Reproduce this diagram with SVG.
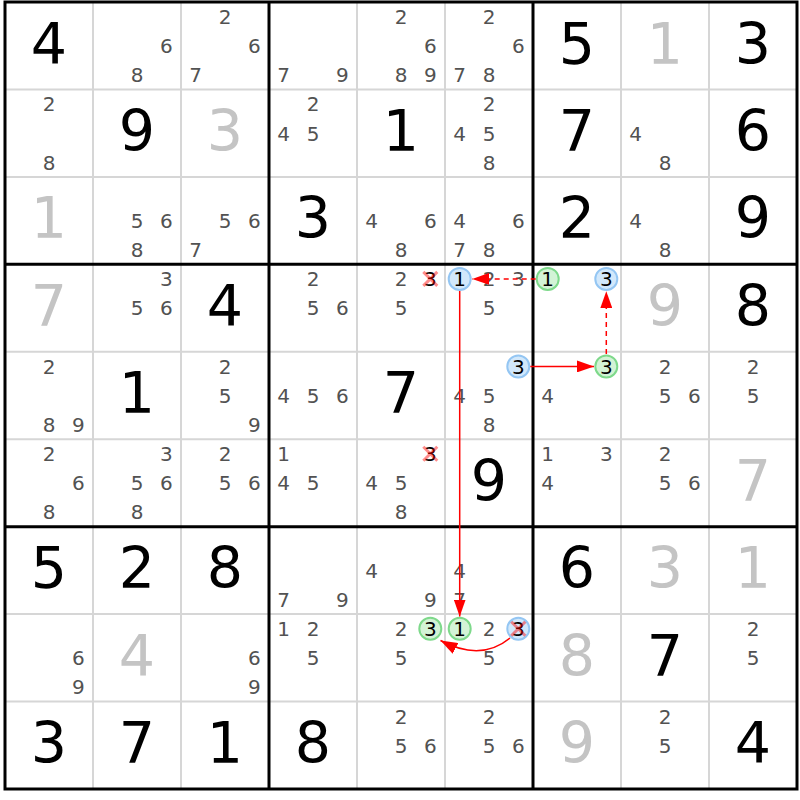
<svg xmlns="http://www.w3.org/2000/svg" width="800" height="800" viewBox="0 0 800 800">
<style>
.c{font-family:"DejaVu Sans",Verdana,sans-serif;font-size:20px;fill:#525252;text-anchor:middle}
.hl{fill:#000}
.b{font-family:"DejaVu Sans",Verdana,sans-serif;font-size:57px;fill:#000;text-anchor:middle}
.gv{fill:#c4c4c4}
.cb{fill:#d2e8fb;stroke:#94c6f3;stroke-width:2}
.cg{fill:#d3f3d6;stroke:#7ed98b;stroke-width:2}
.x{stroke:#ff0000;stroke-opacity:0.45;stroke-width:3;fill:none}
.thin{stroke:#d6d6d6;stroke-width:2}
.thick{stroke:#000;stroke-width:3;fill:none}
.lk{stroke:#ff0000;stroke-width:1.5;fill:none;marker-end:url(#ah)}
.ds{stroke-dasharray:5 4}
</style>
<defs>
<marker id="ah" markerUnits="userSpaceOnUse" markerWidth="17" markerHeight="12" viewBox="0 0 17 12" refX="17" refY="6" orient="auto">
<path d="M0,0 L17,6 L0,12 z" fill="#ff0000"/>
</marker>
</defs>
<rect x="0" y="0" width="800" height="800" fill="#fff"/>
<g id="grid">
<path class="thin" d="M93,2V789M181,2V789M357,2V789M445,2V789M621,2V789M709,2V789M5,89.4H797M5,176.9H797M5,351.8H797M5,439.2H797M5,614.1H797M5,701.6H797"/>
<path class="thick" d="M269,2V789M533,2V789M5,264.3H797M5,526.7H797"/>
<rect class="thick" x="5" y="2" width="792" height="787"/>
</g>
<g id="cells">
<!-- row 0 -->
<g id="r0c0" transform="translate(5,2)"><text class="b" x="44" y="61.5">4</text></g>
<g id="r0c1" transform="translate(93,2)"><text class="c" x="73.3" y="51.2">6</text><text class="c" x="44" y="80.2">8</text></g>
<g id="r0c2" transform="translate(181,2)"><text class="c" x="44" y="22">2</text><text class="c" x="73.3" y="51.2">6</text><text class="c" x="14.7" y="80.2">7</text></g>
<g id="r0c3" transform="translate(269,2)"><text class="c" x="14.7" y="80.2">7</text><text class="c" x="73.3" y="80.2">9</text></g>
<g id="r0c4" transform="translate(357,2)"><text class="c" x="44" y="22">2</text><text class="c" x="73.3" y="51.2">6</text><text class="c" x="44" y="80.2">8</text><text class="c" x="73.3" y="80.2">9</text></g>
<g id="r0c5" transform="translate(445,2)"><text class="c" x="44" y="22">2</text><text class="c" x="73.3" y="51.2">6</text><text class="c" x="14.7" y="80.2">7</text><text class="c" x="44" y="80.2">8</text></g>
<g id="r0c6" transform="translate(533,2)"><text class="b" x="44" y="61.5">5</text></g>
<g id="r0c7" transform="translate(621,2)"><text class="b gv" x="44" y="61.5">1</text></g>
<g id="r0c8" transform="translate(709,2)"><text class="b" x="44" y="61.5">3</text></g>
<!-- row 1 -->
<g id="r1c0" transform="translate(5,89.4)"><text class="c" x="44" y="22">2</text><text class="c" x="44" y="80.2">8</text></g>
<g id="r1c1" transform="translate(93,89.4)"><text class="b" x="44" y="61.5">9</text></g>
<g id="r1c2" transform="translate(181,89.4)"><text class="b gv" x="44" y="61.5">3</text></g>
<g id="r1c3" transform="translate(269,89.4)"><text class="c" x="44" y="22">2</text><text class="c" x="14.7" y="51.2">4</text><text class="c" x="44" y="51.2">5</text></g>
<g id="r1c4" transform="translate(357,89.4)"><text class="b" x="44" y="61.5">1</text></g>
<g id="r1c5" transform="translate(445,89.4)"><text class="c" x="44" y="22">2</text><text class="c" x="14.7" y="51.2">4</text><text class="c" x="44" y="51.2">5</text><text class="c" x="44" y="80.2">8</text></g>
<g id="r1c6" transform="translate(533,89.4)"><text class="b" x="44" y="61.5">7</text></g>
<g id="r1c7" transform="translate(621,89.4)"><text class="c" x="14.7" y="51.2">4</text><text class="c" x="44" y="80.2">8</text></g>
<g id="r1c8" transform="translate(709,89.4)"><text class="b" x="44" y="61.5">6</text></g>
<!-- row 2 -->
<g id="r2c0" transform="translate(5,176.9)"><text class="b gv" x="44" y="61.5">1</text></g>
<g id="r2c1" transform="translate(93,176.9)"><text class="c" x="44" y="51.2">5</text><text class="c" x="73.3" y="51.2">6</text><text class="c" x="44" y="80.2">8</text></g>
<g id="r2c2" transform="translate(181,176.9)"><text class="c" x="44" y="51.2">5</text><text class="c" x="73.3" y="51.2">6</text><text class="c" x="14.7" y="80.2">7</text></g>
<g id="r2c3" transform="translate(269,176.9)"><text class="b" x="44" y="61.5">3</text></g>
<g id="r2c4" transform="translate(357,176.9)"><text class="c" x="14.7" y="51.2">4</text><text class="c" x="73.3" y="51.2">6</text><text class="c" x="44" y="80.2">8</text></g>
<g id="r2c5" transform="translate(445,176.9)"><text class="c" x="14.7" y="51.2">4</text><text class="c" x="73.3" y="51.2">6</text><text class="c" x="14.7" y="80.2">7</text><text class="c" x="44" y="80.2">8</text></g>
<g id="r2c6" transform="translate(533,176.9)"><text class="b" x="44" y="61.5">2</text></g>
<g id="r2c7" transform="translate(621,176.9)"><text class="c" x="14.7" y="51.2">4</text><text class="c" x="44" y="80.2">8</text></g>
<g id="r2c8" transform="translate(709,176.9)"><text class="b" x="44" y="61.5">9</text></g>
<!-- row 3 -->
<g id="r3c0" transform="translate(5,264.3)"><text class="b gv" x="44" y="61.5">7</text></g>
<g id="r3c1" transform="translate(93,264.3)"><text class="c" x="73.3" y="22">3</text><text class="c" x="44" y="51.2">5</text><text class="c" x="73.3" y="51.2">6</text></g>
<g id="r3c2" transform="translate(181,264.3)"><text class="b" x="44" y="61.5">4</text></g>
<g id="r3c3" transform="translate(269,264.3)"><text class="c" x="44" y="22">2</text><text class="c" x="44" y="51.2">5</text><text class="c" x="73.3" y="51.2">6</text></g>
<g id="r3c4" transform="translate(357,264.3)"><text class="c" x="44" y="22">2</text><text class="c hl" x="73.3" y="22">3</text><path class="x" d="M66.3,7.6L80.3,21.6M80.3,7.6L66.3,21.6"/><text class="c" x="44" y="51.2">5</text></g>
<g id="r3c5" transform="translate(445,264.3)"><circle class="cb" cx="14.7" cy="14.6" r="11"/><text class="c hl" x="14.7" y="22">1</text><text class="c" x="44" y="22">2</text><text class="c" x="73.3" y="22">3</text><text class="c" x="44" y="51.2">5</text></g>
<g id="r3c6" transform="translate(533,264.3)"><circle class="cg" cx="14.7" cy="14.6" r="11"/><text class="c hl" x="14.7" y="22">1</text><circle class="cb" cx="73.3" cy="14.6" r="11"/><text class="c hl" x="73.3" y="22">3</text></g>
<g id="r3c7" transform="translate(621,264.3)"><text class="b gv" x="44" y="61.5">9</text></g>
<g id="r3c8" transform="translate(709,264.3)"><text class="b" x="44" y="61.5">8</text></g>
<!-- row 4 -->
<g id="r4c0" transform="translate(5,351.8)"><text class="c" x="44" y="22">2</text><text class="c" x="44" y="80.2">8</text><text class="c" x="73.3" y="80.2">9</text></g>
<g id="r4c1" transform="translate(93,351.8)"><text class="b" x="44" y="61.5">1</text></g>
<g id="r4c2" transform="translate(181,351.8)"><text class="c" x="44" y="22">2</text><text class="c" x="44" y="51.2">5</text><text class="c" x="73.3" y="80.2">9</text></g>
<g id="r4c3" transform="translate(269,351.8)"><text class="c" x="14.7" y="51.2">4</text><text class="c" x="44" y="51.2">5</text><text class="c" x="73.3" y="51.2">6</text></g>
<g id="r4c4" transform="translate(357,351.8)"><text class="b" x="44" y="61.5">7</text></g>
<g id="r4c5" transform="translate(445,351.8)"><circle class="cb" cx="73.3" cy="14.6" r="11"/><text class="c hl" x="73.3" y="22">3</text><text class="c" x="14.7" y="51.2">4</text><text class="c" x="44" y="51.2">5</text><text class="c" x="44" y="80.2">8</text></g>
<g id="r4c6" transform="translate(533,351.8)"><circle class="cg" cx="73.3" cy="14.6" r="11"/><text class="c hl" x="73.3" y="22">3</text><text class="c" x="14.7" y="51.2">4</text></g>
<g id="r4c7" transform="translate(621,351.8)"><text class="c" x="44" y="22">2</text><text class="c" x="44" y="51.2">5</text><text class="c" x="73.3" y="51.2">6</text></g>
<g id="r4c8" transform="translate(709,351.8)"><text class="c" x="44" y="22">2</text><text class="c" x="44" y="51.2">5</text></g>
<!-- row 5 -->
<g id="r5c0" transform="translate(5,439.2)"><text class="c" x="44" y="22">2</text><text class="c" x="73.3" y="51.2">6</text><text class="c" x="44" y="80.2">8</text></g>
<g id="r5c1" transform="translate(93,439.2)"><text class="c" x="73.3" y="22">3</text><text class="c" x="44" y="51.2">5</text><text class="c" x="73.3" y="51.2">6</text><text class="c" x="44" y="80.2">8</text></g>
<g id="r5c2" transform="translate(181,439.2)"><text class="c" x="44" y="22">2</text><text class="c" x="44" y="51.2">5</text><text class="c" x="73.3" y="51.2">6</text></g>
<g id="r5c3" transform="translate(269,439.2)"><text class="c" x="14.7" y="22">1</text><text class="c" x="14.7" y="51.2">4</text><text class="c" x="44" y="51.2">5</text></g>
<g id="r5c4" transform="translate(357,439.2)"><text class="c hl" x="73.3" y="22">3</text><path class="x" d="M66.3,7.6L80.3,21.6M80.3,7.6L66.3,21.6"/><text class="c" x="14.7" y="51.2">4</text><text class="c" x="44" y="51.2">5</text><text class="c" x="44" y="80.2">8</text></g>
<g id="r5c5" transform="translate(445,439.2)"><text class="b" x="44" y="61.5">9</text></g>
<g id="r5c6" transform="translate(533,439.2)"><text class="c" x="14.7" y="22">1</text><text class="c" x="73.3" y="22">3</text><text class="c" x="14.7" y="51.2">4</text></g>
<g id="r5c7" transform="translate(621,439.2)"><text class="c" x="44" y="22">2</text><text class="c" x="44" y="51.2">5</text><text class="c" x="73.3" y="51.2">6</text></g>
<g id="r5c8" transform="translate(709,439.2)"><text class="b gv" x="44" y="61.5">7</text></g>
<!-- row 6 -->
<g id="r6c0" transform="translate(5,526.7)"><text class="b" x="44" y="61.5">5</text></g>
<g id="r6c1" transform="translate(93,526.7)"><text class="b" x="44" y="61.5">2</text></g>
<g id="r6c2" transform="translate(181,526.7)"><text class="b" x="44" y="61.5">8</text></g>
<g id="r6c3" transform="translate(269,526.7)"><text class="c" x="14.7" y="80.2">7</text><text class="c" x="73.3" y="80.2">9</text></g>
<g id="r6c4" transform="translate(357,526.7)"><text class="c" x="14.7" y="51.2">4</text><text class="c" x="73.3" y="80.2">9</text></g>
<g id="r6c5" transform="translate(445,526.7)"><text class="c" x="14.7" y="51.2">4</text><text class="c" x="14.7" y="80.2">7</text></g>
<g id="r6c6" transform="translate(533,526.7)"><text class="b" x="44" y="61.5">6</text></g>
<g id="r6c7" transform="translate(621,526.7)"><text class="b gv" x="44" y="61.5">3</text></g>
<g id="r6c8" transform="translate(709,526.7)"><text class="b gv" x="44" y="61.5">1</text></g>
<!-- row 7 -->
<g id="r7c0" transform="translate(5,614.1)"><text class="c" x="73.3" y="51.2">6</text><text class="c" x="73.3" y="80.2">9</text></g>
<g id="r7c1" transform="translate(93,614.1)"><text class="b gv" x="44" y="61.5">4</text></g>
<g id="r7c2" transform="translate(181,614.1)"><text class="c" x="73.3" y="51.2">6</text><text class="c" x="73.3" y="80.2">9</text></g>
<g id="r7c3" transform="translate(269,614.1)"><text class="c" x="14.7" y="22">1</text><text class="c" x="44" y="22">2</text><text class="c" x="44" y="51.2">5</text></g>
<g id="r7c4" transform="translate(357,614.1)"><text class="c" x="44" y="22">2</text><circle class="cg" cx="73.3" cy="14.6" r="11"/><text class="c hl" x="73.3" y="22">3</text><text class="c" x="44" y="51.2">5</text></g>
<g id="r7c5" transform="translate(445,614.1)"><circle class="cg" cx="14.7" cy="14.6" r="11"/><text class="c hl" x="14.7" y="22">1</text><text class="c" x="44" y="22">2</text><circle class="cb" cx="73.3" cy="14.6" r="11"/><text class="c hl" x="73.3" y="22">3</text><path class="x" d="M66.3,7.6L80.3,21.6M80.3,7.6L66.3,21.6"/><text class="c" x="44" y="51.2">5</text></g>
<g id="r7c6" transform="translate(533,614.1)"><text class="b gv" x="44" y="61.5">8</text></g>
<g id="r7c7" transform="translate(621,614.1)"><text class="b" x="44" y="61.5">7</text></g>
<g id="r7c8" transform="translate(709,614.1)"><text class="c" x="44" y="22">2</text><text class="c" x="44" y="51.2">5</text></g>
<!-- row 8 -->
<g id="r8c0" transform="translate(5,701.6)"><text class="b" x="44" y="61.5">3</text></g>
<g id="r8c1" transform="translate(93,701.6)"><text class="b" x="44" y="61.5">7</text></g>
<g id="r8c2" transform="translate(181,701.6)"><text class="b" x="44" y="61.5">1</text></g>
<g id="r8c3" transform="translate(269,701.6)"><text class="b" x="44" y="61.5">8</text></g>
<g id="r8c4" transform="translate(357,701.6)"><text class="c" x="44" y="22">2</text><text class="c" x="44" y="51.2">5</text><text class="c" x="73.3" y="51.2">6</text></g>
<g id="r8c5" transform="translate(445,701.6)"><text class="c" x="44" y="22">2</text><text class="c" x="44" y="51.2">5</text><text class="c" x="73.3" y="51.2">6</text></g>
<g id="r8c6" transform="translate(533,701.6)"><text class="b gv" x="44" y="61.5">9</text></g>
<g id="r8c7" transform="translate(621,701.6)"><text class="c" x="44" y="22">2</text><text class="c" x="44" y="51.2">5</text></g>
<g id="r8c8" transform="translate(709,701.6)"><text class="b" x="44" y="61.5">4</text></g>
</g>
<g id="links">
<path class="lk ds" d="M535.7,278.9H472.2"/>
<path class="lk ds" d="M606.3,354V291.2"/>
<path class="lk" d="M530.3,366.4H594"/>
<path class="lk" d="M459.7,291V616.5"/>
<path class="lk" d="M510,638Q481,662 440.5,640.5"/>
</g>
</svg>
